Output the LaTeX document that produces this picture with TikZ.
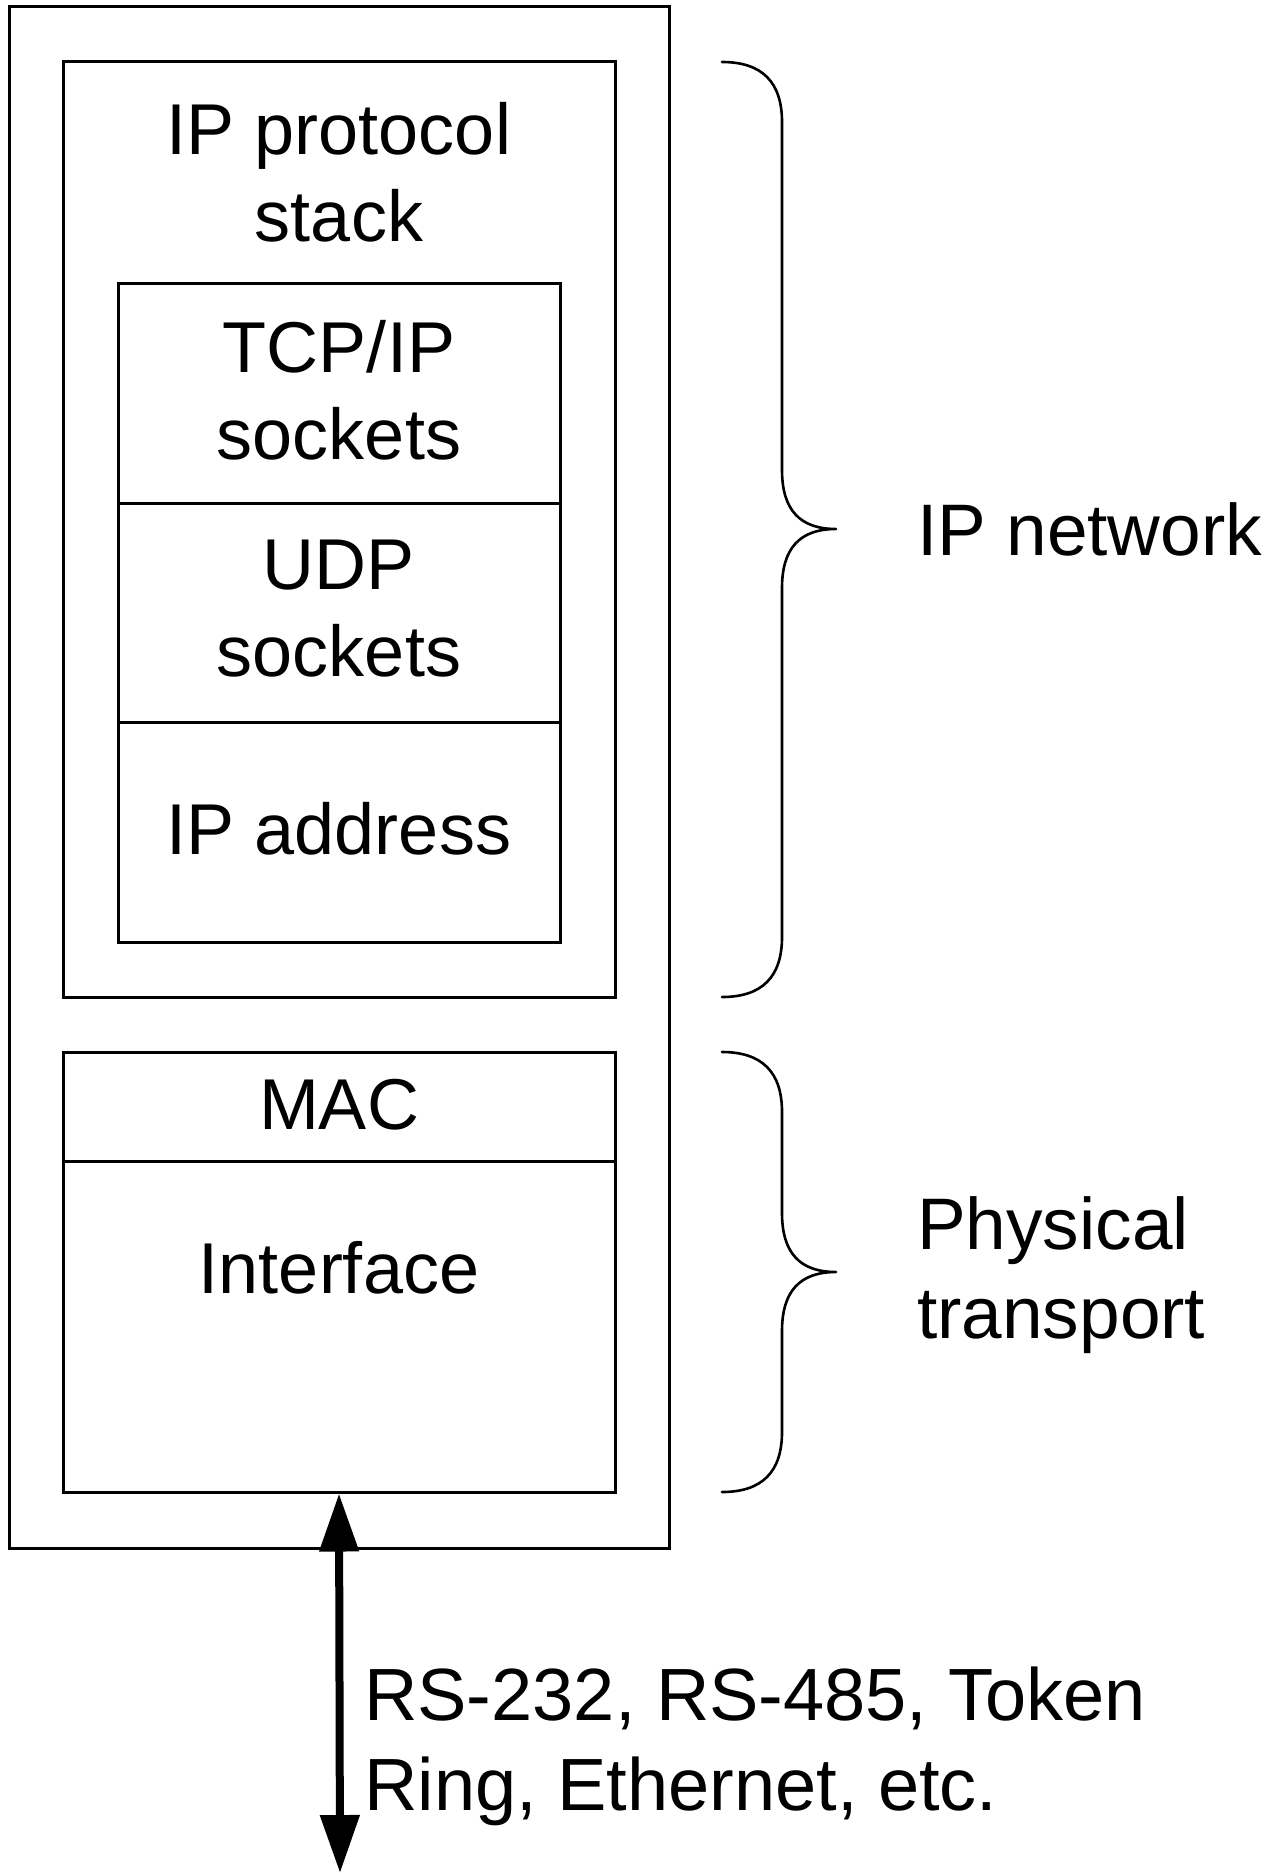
\documentclass[tikz,border=0pt]{standalone}
\usepackage{fontspec}
\setmainfont{Liberation Sans}
\usetikzlibrary{arrows.meta}
\begin{document}
\begin{tikzpicture}[x=1pt,y=-1pt,
  box/.style={draw=black, line width=3pt, inner sep=0pt},
  lbl/.style={font=\fontsize{72}{87}\selectfont, align=center, inner sep=0pt},
  lbll/.style={font=\fontsize{72}{89}\selectfont, align=left, inner sep=0pt, anchor=west},
  brace/.style={draw=black, line width=2.6pt, line cap=round, line join=round},
  dblarrow/.style={line width=8pt, {Triangle[length=58pt,width=38pt]}-{Triangle[length=58pt,width=38pt]}}]
\useasboundingbox (0,0) rectangle (1273,1873);
% outer device box
\node[box, minimum width=660pt, minimum height=1541pt] (outer) at (339.5,777.5) {};
% IP protocol stack
\node[box, minimum width=552pt, minimum height=935pt] (stack) at (339,529.5) {};
\node[lbl] (stacklbl) at (339,172) {IP protocol\\stack};
\node[box, minimum width=442pt, minimum height=220pt] (tcp) at (339,393) {};
\node[lbl] (tcplbl) at (339,390) {TCP/IP\\sockets};
\node[box, minimum width=442pt, minimum height=219pt] (udp) at (339,612.5) {};
\node[lbl] (udplbl) at (339,609) {UDP\\sockets};
\node[box, minimum width=442pt, minimum height=220pt] (ipaddr) at (339,832) {};
\node[lbl] (ipaddrlbl) at (339,829) {IP address};
% physical part
\node[box, minimum width=552pt, minimum height=109pt] (mac) at (339,1106.5) {};
\node[lbl] (maclbl) at (339,1105) {MAC};
\node[box, minimum width=552pt, minimum height=331pt] (iface) at (339,1326.5) {};
\node[lbl] (ifacelbl) at (339,1268) {Interface};
% braces
\draw[brace] (722,62) .. controls (762,62) and (782,82) .. (782,122) -- (782,470)
  .. controls (782,510) and (800,529) .. (836,529)
  .. controls (800,529) and (782,548) .. (782,588) -- (782,937)
  .. controls (782,977) and (762,997) .. (722,997);
\draw[brace] (722,1052) .. controls (762,1052) and (782,1072) .. (782,1112) -- (782,1213)
  .. controls (782,1253) and (800,1272) .. (836,1272)
  .. controls (800,1272) and (782,1291) .. (782,1331) -- (782,1432)
  .. controls (782,1472) and (762,1492) .. (722,1492);
\node[lbll, font=\fontsize{73}{89}\selectfont] (ipnet) at (917,529) {IP network};
\node[lbll, font=\fontsize{73}{89}\selectfont] (phys) at (917,1275) {Physical\\transport};
% link arrow
\coordinate (bot) at (340,1873);
\draw[dblarrow] (iface.south) -- (bot);
\node[lbll, font=\fontsize{74}{90}\selectfont] (media) at (364,1746) {RS-232, RS-485, Token\\Ring, Ethernet, etc.};
\end{tikzpicture}
\end{document}
